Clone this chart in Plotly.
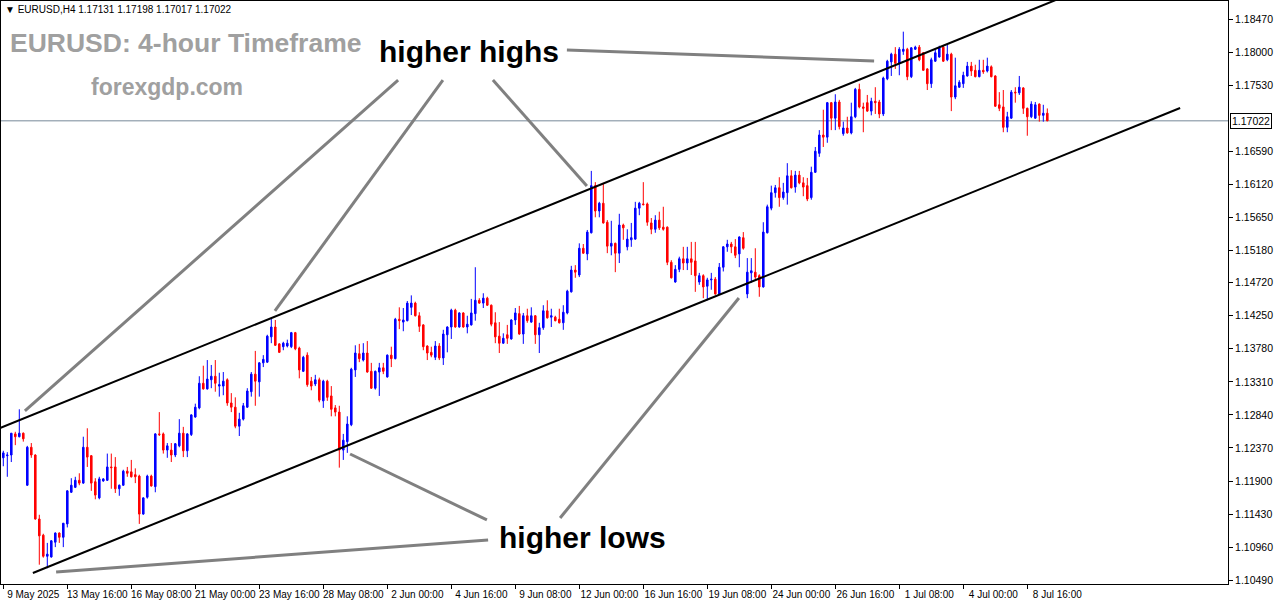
import plotly.graph_objects as go

# ---------------- data (EURUSD H4) ----------------
time_labels = ["9 May 2025", "13 May 16:00", "16 May 08:00", "21 May 00:00", "23 May 16:00",
               "28 May 08:00", "2 Jun 00:00", "4 Jun 16:00", "9 Jun 08:00", "12 Jun 00:00",
               "16 Jun 16:00", "19 Jun 08:00", "24 Jun 00:00", "26 Jun 16:00", "1 Jul 08:00",
               "4 Jul 00:00", "8 Jul 16:00"]
label_every = 16  # one time label every 16 H4 bars

open_ = [
 1.1223, 1.1226, 1.1227, 1.1257, 1.1253, 1.1258, 1.1184, 1.1238, 1.1227, 1.1136,
 1.1113, 1.1083, 1.1082, 1.1103, 1.1116, 1.1110, 1.1129, 1.1174, 1.1181, 1.1191,
 1.1187, 1.1238, 1.1226, 1.1189, 1.1166, 1.1190, 1.1191, 1.1210, 1.1210, 1.1179,
 1.1184, 1.1204, 1.1203, 1.1199, 1.1197, 1.1143, 1.1167, 1.1197, 1.1182, 1.1257,
 1.1257, 1.1234, 1.1234, 1.1227, 1.1240, 1.1258, 1.1233, 1.1256, 1.1281, 1.1294,
 1.1329, 1.1321, 1.1334, 1.1339, 1.1325, 1.1325, 1.1334, 1.1301, 1.1295, 1.1268,
 1.1278, 1.1295, 1.1317, 1.1342, 1.1331, 1.1358, 1.1359, 1.1395, 1.1409, 1.1385,
 1.1381, 1.1382, 1.1381, 1.1401, 1.1379, 1.1346, 1.1369, 1.1332, 1.1328, 1.1334,
 1.1304, 1.1332, 1.1311, 1.1294, 1.1288, 1.1234, 1.1246, 1.1270, 1.1348, 1.1371,
 1.1362, 1.1372, 1.1346, 1.1322, 1.1345, 1.1351, 1.1338, 1.1369, 1.1364, 1.1420,
 1.1416, 1.1418, 1.1437, 1.1443, 1.1425, 1.1412, 1.1382, 1.1373, 1.1366, 1.1382,
 1.1365, 1.1398, 1.1409, 1.1433, 1.1409, 1.1429, 1.1409, 1.1412, 1.1428, 1.1447,
 1.1443, 1.1450, 1.1440, 1.1415, 1.1396, 1.1386, 1.1398, 1.1392, 1.1419, 1.1428,
 1.1399, 1.1425, 1.1416, 1.1425, 1.1398, 1.1408, 1.1432, 1.1423, 1.1423, 1.1420,
 1.1415, 1.1429, 1.1459, 1.1490, 1.1483, 1.1521, 1.1513, 1.1543, 1.1610, 1.1574,
 1.1585, 1.1558, 1.1524, 1.1528, 1.1514, 1.1554, 1.1523, 1.1533, 1.1534, 1.1578,
 1.1584, 1.1584, 1.1557, 1.1548, 1.1561, 1.1551, 1.1551, 1.1501, 1.1473, 1.1491,
 1.1506, 1.1500, 1.1506, 1.1503, 1.1473, 1.1482, 1.1467, 1.1476, 1.1477, 1.1456,
 1.1494, 1.1523, 1.1527, 1.1523, 1.1513, 1.1536, 1.1456, 1.1486, 1.1487, 1.1482,
 1.1466, 1.1543, 1.1578, 1.1600, 1.1607, 1.1593, 1.1600, 1.1624, 1.1608, 1.1625,
 1.1614, 1.1610, 1.1593, 1.1629, 1.1656, 1.1682, 1.1679, 1.1728, 1.1706, 1.1729,
 1.1684, 1.1692, 1.1685, 1.1708, 1.1747, 1.1722, 1.1728, 1.1716, 1.1730, 1.1729,
 1.1712, 1.1762, 1.1786, 1.1797, 1.1784, 1.1801, 1.1804, 1.1765, 1.1804, 1.1807,
 1.1799, 1.1776, 1.1755, 1.1787, 1.1793, 1.1807, 1.1789, 1.1797, 1.1736, 1.1750,
 1.1755, 1.1766, 1.1780, 1.1774, 1.1765, 1.1774, 1.1773, 1.1779, 1.1766, 1.1725,
 1.1722, 1.1693, 1.1706, 1.1743, 1.1742, 1.1749, 1.1720, 1.1708, 1.1706, 1.1726,
 1.1710, 1.17131]

high_ = [
 1.1233, 1.1231, 1.1258, 1.1260, 1.1292, 1.1259, 1.1240, 1.1244, 1.1228, 1.1142,
 1.1115, 1.1102, 1.1106, 1.1117, 1.1117, 1.1130, 1.1177, 1.1194, 1.1196, 1.1201,
 1.1253, 1.1265, 1.1227, 1.1194, 1.1196, 1.1194, 1.1229, 1.1229, 1.1224, 1.1185,
 1.1206, 1.1210, 1.1220, 1.1208, 1.1199, 1.1167, 1.1199, 1.1199, 1.1258, 1.1288,
 1.1259, 1.1244, 1.1244, 1.1244, 1.1278, 1.1267, 1.1258, 1.1285, 1.1300, 1.1339,
 1.1354, 1.1362, 1.1355, 1.1362, 1.1344, 1.1345, 1.1336, 1.1315, 1.1309, 1.1287,
 1.1301, 1.1322, 1.1345, 1.1375, 1.1359, 1.1369, 1.1398, 1.1422, 1.1419, 1.1386,
 1.1388, 1.1391, 1.1402, 1.1402, 1.1381, 1.1368, 1.1373, 1.1338, 1.1341, 1.1337,
 1.1334, 1.1334, 1.1325, 1.1298, 1.1297, 1.1257, 1.1282, 1.1351, 1.1383, 1.1385,
 1.1386, 1.1389, 1.1358, 1.1347, 1.1358, 1.1358, 1.1370, 1.1381, 1.1422, 1.1437,
 1.1436, 1.1446, 1.1454, 1.1445, 1.1430, 1.1413, 1.1383, 1.1381, 1.1389, 1.1386,
 1.1405, 1.1410, 1.1435, 1.1435, 1.1430, 1.1430, 1.1425, 1.1449, 1.1494, 1.1450,
 1.1457, 1.1452, 1.1441, 1.1430, 1.1416, 1.1400, 1.1412, 1.1420, 1.1436, 1.1439,
 1.1429, 1.1435, 1.1437, 1.1426, 1.1415, 1.1440, 1.1447, 1.1435, 1.1425, 1.1435,
 1.1440, 1.1462, 1.1496, 1.1497, 1.1528, 1.1527, 1.1547, 1.1631, 1.1615, 1.1587,
 1.1614, 1.1561, 1.1560, 1.1529, 1.1570, 1.1556, 1.1548, 1.1557, 1.1587, 1.1587,
 1.1615, 1.1586, 1.1564, 1.1568, 1.1573, 1.1580, 1.1552, 1.1504, 1.1497, 1.1509,
 1.1523, 1.1523, 1.1530, 1.1530, 1.1486, 1.1484, 1.1479, 1.1486, 1.1480, 1.1500,
 1.1524, 1.1533, 1.1530, 1.1534, 1.1538, 1.1544, 1.1507, 1.1507, 1.1521, 1.1484,
 1.1558, 1.1583, 1.1610, 1.1611, 1.1622, 1.1614, 1.1642, 1.1632, 1.1631, 1.1631,
 1.1622, 1.1621, 1.1637, 1.1665, 1.1689, 1.1718, 1.1729, 1.1729, 1.1740, 1.1732,
 1.1701, 1.1708, 1.1728, 1.1749, 1.1755, 1.1728, 1.1739, 1.1735, 1.1750, 1.1732,
 1.1765, 1.1789, 1.1799, 1.1807, 1.1807, 1.1829, 1.1806, 1.1807, 1.1809, 1.1810,
 1.1800, 1.1777, 1.1792, 1.1803, 1.1809, 1.1810, 1.1810, 1.1799, 1.1792, 1.1760,
 1.1772, 1.1786, 1.1786, 1.1782, 1.1789, 1.1789, 1.1792, 1.1781, 1.1767, 1.1743,
 1.1746, 1.1715, 1.1746, 1.1750, 1.1766, 1.1750, 1.1721, 1.1730, 1.1729, 1.1727,
 1.1725, 1.17198]

low_ = [
 1.1211, 1.1196, 1.1217, 1.1241, 1.1252, 1.1246, 1.1183, 1.1223, 1.1135, 1.1071,
 1.1081, 1.1066, 1.1081, 1.1096, 1.1102, 1.1096, 1.1124, 1.1173, 1.1180, 1.1184,
 1.1186, 1.1210, 1.1176, 1.1164, 1.1164, 1.1189, 1.1190, 1.1179, 1.1173, 1.1169,
 1.1183, 1.1196, 1.1195, 1.1187, 1.1129, 1.1142, 1.1165, 1.1182, 1.1174, 1.1254,
 1.1229, 1.1223, 1.1217, 1.1224, 1.1238, 1.1224, 1.1224, 1.1254, 1.1280, 1.1292,
 1.1320, 1.1320, 1.1322, 1.1317, 1.1310, 1.1312, 1.1297, 1.1288, 1.1265, 1.1254,
 1.1276, 1.1294, 1.1310, 1.1297, 1.1310, 1.1352, 1.1358, 1.1386, 1.1382, 1.1372,
 1.1376, 1.1380, 1.1379, 1.1376, 1.1336, 1.1345, 1.1324, 1.1319, 1.1325, 1.1302,
 1.1294, 1.1304, 1.1282, 1.1282, 1.1209, 1.1220, 1.1230, 1.1268, 1.1338, 1.1359,
 1.1360, 1.1344, 1.1321, 1.1320, 1.1311, 1.1342, 1.1337, 1.1352, 1.1363, 1.1406,
 1.1403, 1.1417, 1.1426, 1.1424, 1.1402, 1.1376, 1.1362, 1.1366, 1.1362, 1.1362,
 1.1355, 1.1373, 1.1392, 1.1408, 1.1408, 1.1408, 1.1400, 1.1411, 1.1418, 1.1442,
 1.1436, 1.1439, 1.1410, 1.1386, 1.1372, 1.1385, 1.1385, 1.1391, 1.1412, 1.1398,
 1.1385, 1.1415, 1.1415, 1.1385, 1.1372, 1.1405, 1.1421, 1.1409, 1.1417, 1.1414,
 1.1405, 1.1427, 1.1458, 1.1479, 1.1480, 1.1513, 1.1504, 1.1542, 1.1565, 1.1565,
 1.1556, 1.1514, 1.1511, 1.1487, 1.1500, 1.1533, 1.1518, 1.1523, 1.1533, 1.1568,
 1.1582, 1.1553, 1.1541, 1.1543, 1.1547, 1.1546, 1.1497, 1.1478, 1.1472, 1.1487,
 1.1490, 1.1490, 1.1483, 1.1459, 1.1469, 1.1450, 1.1447, 1.1462, 1.1455, 1.1455,
 1.1488, 1.1516, 1.1514, 1.1507, 1.1494, 1.1519, 1.1450, 1.1472, 1.1476, 1.1452,
 1.1465, 1.1542, 1.1575, 1.1593, 1.1580, 1.1590, 1.1583, 1.1606, 1.1600, 1.1612,
 1.1595, 1.1588, 1.1590, 1.1628, 1.1651, 1.1665, 1.1671, 1.1689, 1.1689, 1.1690,
 1.1681, 1.1684, 1.1683, 1.1706, 1.1720, 1.1686, 1.1715, 1.1710, 1.1712, 1.1706,
 1.1709, 1.1760, 1.1766, 1.1776, 1.1767, 1.1796, 1.1760, 1.1763, 1.1803, 1.1787,
 1.1774, 1.1746, 1.1749, 1.1786, 1.1792, 1.1786, 1.1787, 1.1716, 1.1733, 1.1749,
 1.1749, 1.1765, 1.1766, 1.1764, 1.1764, 1.1769, 1.1771, 1.1764, 1.1722, 1.1716,
 1.1686, 1.1686, 1.1705, 1.1728, 1.1739, 1.1712, 1.1681, 1.1706, 1.1705, 1.1701,
 1.1701, 1.17017]

close_ = [
 1.1230, 1.1227, 1.1258, 1.1253, 1.1258, 1.1250, 1.1238, 1.1227, 1.1136, 1.1112,
 1.1083, 1.1086, 1.1105, 1.1116, 1.1110, 1.1130, 1.1176, 1.1184, 1.1191, 1.1187,
 1.1238, 1.1224, 1.1187, 1.1170, 1.1193, 1.1193, 1.1210, 1.1209, 1.1179, 1.1184,
 1.1204, 1.1201, 1.1196, 1.1196, 1.1143, 1.1166, 1.1197, 1.1183, 1.1257, 1.1256,
 1.1234, 1.1240, 1.1227, 1.1243, 1.1258, 1.1233, 1.1257, 1.1284, 1.1295, 1.1329,
 1.1321, 1.1335, 1.1339, 1.1329, 1.1327, 1.1332, 1.1301, 1.1295, 1.1268, 1.1278,
 1.1297, 1.1318, 1.1342, 1.1332, 1.1358, 1.1363, 1.1396, 1.1409, 1.1383, 1.1373,
 1.1386, 1.1386, 1.1401, 1.1378, 1.1348, 1.1366, 1.1327, 1.1325, 1.1334, 1.1305,
 1.1332, 1.1309, 1.1292, 1.1288, 1.1234, 1.1248, 1.1271, 1.1349, 1.1372, 1.1364,
 1.1372, 1.1345, 1.1322, 1.1346, 1.1351, 1.1346, 1.1369, 1.1364, 1.1420, 1.1418,
 1.1419, 1.1443, 1.1443, 1.1425, 1.1410, 1.1381, 1.1372, 1.1369, 1.1382, 1.1365,
 1.1399, 1.1409, 1.1433, 1.1409, 1.1429, 1.1409, 1.1413, 1.1429, 1.1447, 1.1443,
 1.1450, 1.1440, 1.1413, 1.1395, 1.1386, 1.1393, 1.1393, 1.1419, 1.1429, 1.1399,
 1.1425, 1.1418, 1.1425, 1.1398, 1.1408, 1.1432, 1.1422, 1.1425, 1.1418, 1.1415,
 1.1430, 1.1460, 1.1490, 1.1487, 1.1521, 1.1514, 1.1544, 1.1610, 1.1574, 1.1585,
 1.1557, 1.1524, 1.1528, 1.1514, 1.1554, 1.1550, 1.1534, 1.1536, 1.1578, 1.1585,
 1.1583, 1.1558, 1.1548, 1.1561, 1.1550, 1.1548, 1.1501, 1.1479, 1.1491, 1.1506,
 1.1500, 1.1506, 1.1501, 1.1482, 1.1482, 1.1466, 1.1476, 1.1477, 1.1456, 1.1494,
 1.1523, 1.1527, 1.1523, 1.1511, 1.1537, 1.1521, 1.1487, 1.1489, 1.1480, 1.1466,
 1.1544, 1.1580, 1.1600, 1.1607, 1.1593, 1.1601, 1.1624, 1.1607, 1.1625, 1.1614,
 1.1608, 1.1591, 1.1629, 1.1659, 1.1682, 1.1679, 1.1728, 1.1706, 1.1729, 1.1694,
 1.1692, 1.1685, 1.1708, 1.1747, 1.1722, 1.1720, 1.1716, 1.1730, 1.1728, 1.1712,
 1.1763, 1.1787, 1.1797, 1.1784, 1.1804, 1.1804, 1.1765, 1.1806, 1.1807, 1.1789,
 1.1774, 1.1755, 1.1789, 1.1799, 1.1806, 1.1787, 1.1797, 1.1736, 1.1752, 1.1757,
 1.1767, 1.1780, 1.1773, 1.1765, 1.1774, 1.1772, 1.1780, 1.1765, 1.1723, 1.1720,
 1.1693, 1.1708, 1.1743, 1.1742, 1.1750, 1.1720, 1.1708, 1.1726, 1.1725, 1.1710,
 1.1713, 1.17022]

price_ticks = [1.18470, 1.18000, 1.17530, 1.16590, 1.16120, 1.15650, 1.15180, 1.14720,
               1.14250, 1.13780, 1.13310, 1.12840, 1.12370, 1.11900, 1.11430, 1.10960, 1.10490]
bid_price = 1.17022

# trend channel (bar index, price)
upper_channel_x = [-1, 275]
upper_channel_y = [1.12649, 1.19014]
lower_channel_x = [7.4, 294.2]
lower_channel_y = [1.10592, 1.17204]

# grey pointer lines: (bar0, price0, bar1, price1)
pointer_lines = [
    (98.7, 1.17602, 5.4, 1.12896),
    (109.9, 1.17602, 67.9, 1.14318),
    (122.4, 1.17602, 145.9, 1.16095),
    (140.9, 1.18029, 217.7, 1.17873),
    (120.9, 1.11346, 86.7, 1.12284),
    (139.2, 1.11374, 183.9, 1.14502),
    (121.2, 1.11061, 13.2, 1.10606),
]

# ---------------- figure ----------------
bars = list(range(len(open_)))
FONT = "Liberation Sans"

fig = go.Figure()
fig.add_trace(go.Candlestick(
    x=bars, open=open_, high=high_, low=low_, close=close_,
    increasing=dict(line=dict(color="#0000FF", width=1), fillcolor="#0000FF"),
    decreasing=dict(line=dict(color="#FF0000", width=1), fillcolor="#FF0000"),
    whiskerwidth=0, showlegend=False, hoverinfo="skip"))

fig.add_trace(go.Scatter(x=upper_channel_x, y=upper_channel_y, mode="lines",
                         line=dict(color="black", width=2), showlegend=False, hoverinfo="skip"))
fig.add_trace(go.Scatter(x=lower_channel_x, y=lower_channel_y, mode="lines",
                         line=dict(color="black", width=2), showlegend=False, hoverinfo="skip"))

shapes = [dict(type="line", xref="paper", yref="y", x0=0, x1=1, y0=bid_price, y1=bid_price,
               line=dict(color="#778899", width=1), layer="below")]
for x0, y0, x1, y1 in pointer_lines:
    shapes.append(dict(type="line", xref="x", yref="y", x0=x0, y0=y0, x1=x1, y1=y1,
                       line=dict(color="#808080", width=3), layer="above"))

annotations = [
    dict(text="higher highs", x=0.3814, y=0.914, xref="paper", yref="paper",
         xanchor="center", yanchor="middle",
         showarrow=False, font=dict(family=FONT, size=30, color="black", weight="bold")),
    dict(text="higher lows", x=0.4743, y=0.080, xref="paper", yref="paper",
         xanchor="center", yanchor="middle",
         showarrow=False, font=dict(family=FONT, size=30, color="black", weight="bold")),
    dict(text="EURUSD: 4-hour Timeframe", x=0.0057, y=0.928, xref="paper", yref="paper",
         xanchor="left", yanchor="middle", showarrow=False,
         font=dict(family=FONT, size=26.5, color="#a0a0a0", weight="bold")),
    dict(text="forexgdp.com", x=0.1353, y=0.853, xref="paper", yref="paper",
         xanchor="center", yanchor="middle",
         showarrow=False, font=dict(family=FONT, size=23, color="#a0a0a0", weight="bold")),
    dict(text="\u25BC EURUSD,H4 1.17131 1.17198 1.17017 1.17022", x=0.002, y=0.986,
         xref="paper", yref="paper", xanchor="left", yanchor="middle", showarrow=False,
         font=dict(family=FONT, size=10, color="black")),
    dict(text=f"{bid_price:.5f}", x=1, y=bid_price, xref="paper", yref="y",
         xanchor="left", yanchor="middle", xshift=2, showarrow=False,
         bgcolor="white", bordercolor="black", borderwidth=1, borderpad=1,
         font=dict(family=FONT, size=10.5, color="black")),
]

fig.update_layout(
    width=1276, height=604, autosize=False,
    margin=dict(l=1, r=48, t=1, b=20, autoexpand=False),
    paper_bgcolor="white", plot_bgcolor="white",
    showlegend=False, boxgap=0.45,
    shapes=shapes, annotations=annotations,
    xaxis=dict(range=[-0.575, 306.175], showgrid=False, zeroline=False,
               showline=True, linecolor="black", linewidth=1, mirror=True,
               ticks="outside", ticklen=4, tickcolor="black", tickangle=0,
               tickvals=[i * label_every for i in range(len(time_labels))],
               ticktext=time_labels, ticklabelshift=30, ticklabelstandoff=-3,
               automargin=False,
               tickfont=dict(family=FONT, size=10, color="black"),
               rangeslider=dict(visible=False), fixedrange=True),
    yaxis=dict(range=[1.104355, 1.18726], side="right", showgrid=False, zeroline=False,
               showline=True, linecolor="black", linewidth=1, mirror=True,
               ticks="outside", ticklen=4, tickcolor="black", automargin=False,
               tickvals=price_ticks, ticktext=[f"{v:.5f}" for v in price_ticks],
               tickfont=dict(family=FONT, size=10.5, color="black"), fixedrange=True),
)

fig.write_html("out.html", config={"displayModeBar": False},
               post_script="document.body.style.margin='0px';document.body.style.overflow='hidden';")
